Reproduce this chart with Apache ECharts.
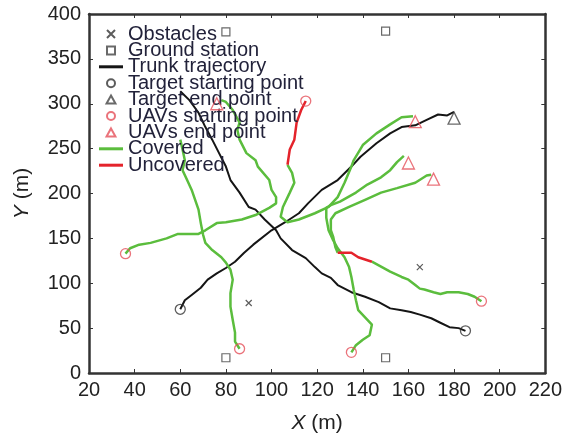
<!DOCTYPE html>
<html>
<head>
<meta charset="utf-8">
<script src="https://cdn.jsdelivr.net/npm/echarts@6/dist/echarts.min.js"></script>
<style>
  html, body { margin: 0; background: #fff; }
  #chart { width: 565px; height: 439px; }
</style>
</head>
<body>
<div id="chart"></div>
<script>
// markers
const obstacles = [[90, 78], [165, 118]];
const groundStations = [[80, 380], [150, 381], [80, 17], [150, 17]];
const targetStart = [[60, 71], [185, 47]];
const targetEnd = [[180, 284]];
const uavStart = [[36, 133], [86, 27], [135, 23], [192, 80], [115, 303]];
const uavEnd = [[163, 280], [160, 234], [171, 216], [76, 300]];

// trunk trajectories
const trunk1 = [[60, 71], [62, 81], [65, 87], [69, 95], [72, 104], [76, 111], [80, 117], [84, 124], [88, 134], [92, 143],
  [100, 159], [106, 168], [112, 178], [116, 189], [122, 204], [129, 215], [135, 230], [139, 241], [146, 256], [152, 267],
  [157, 274], [163, 276], [168, 282], [173, 288], [177, 287], [180, 291]];
const trunk2 = [[185, 47], [182, 50], [178, 51], [174, 56], [170, 61], [165, 65], [161, 68], [157, 70], [152, 72], [147, 79],
  [141, 85], [135, 90], [129, 98], [126, 106], [122, 111], [119, 118], [115, 128], [109, 137], [104, 150], [102, 159],
  [97, 171], [93, 182], [90, 185], [86, 201], [82, 215], [80, 230], [77, 245], [74, 260], [71, 274], [68, 290], [64, 304], [60, 314]];

// UAV paths, covered parts
const pathC = [[36, 133], [38, 139], [42, 143], [47, 145], [54, 150], [59, 155], [68, 155], [71, 159], [76, 167], [80, 168],
  [87, 171], [93, 176], [99, 184], [102, 189], [102, 196], [100, 204], [99, 215], [94, 230], [93, 237], [89, 245],
  [86, 260], [85, 271], [86, 279], [83, 293], [80, 302], [78, 304]];
const pathD = [[86, 27], [84, 35], [84, 45], [83, 59], [82, 74], [82, 89], [83, 104], [82, 115], [80, 123], [78, 129],
  [74, 137], [71, 145], [70, 154], [69, 167], [68, 182], [65, 204], [63, 215], [61, 226], [62, 237], [61, 249], [60, 260]];
const pathBGreen = [[107, 232], [109, 223], [110, 212], [108, 201], [105, 185], [104, 174], [107, 168], [112, 171], [119, 178],
  [125, 185], [129, 196], [132, 212], [135, 230], [136, 237], [140, 254], [146, 267], [152, 277], [157, 285], [162, 286]];
const pathE = [[135, 23], [137, 31], [140, 37], [143, 42], [144, 54], [141, 62], [138, 70], [137, 81], [136, 93], [135, 107],
  [134, 118], [132, 129], [129, 139], [127, 148], [125, 159], [124, 173], [124, 184], [126, 187], [130, 191], [137, 201],
  [142, 210], [148, 218], [152, 226], [155, 235], [158, 242]];
const pathFStart = [[192, 80], [189, 85], [186, 88], [182, 90], [177, 90], [174, 88], [171, 90], [167, 93], [165, 94],
  [163, 98], [160, 104], [157, 107], [152, 113], [147, 120], [144, 124]];
const pathFEnd = [[129, 134], [128, 140], [127, 152], [126, 159], [126, 171], [128, 178], [134, 185], [141, 193], [148, 201],
  [155, 206], [163, 212], [168, 220], [170, 221]];

// uncovered parts
const pathBRed = [[115, 303], [113, 293], [111, 279], [110, 260], [108, 249], [107, 232]];
const pathFRed = [[144, 124], [138, 129], [135, 134], [132, 134], [129, 134]];

const font = 'Liberation Sans, Arial, sans-serif';
const green = '#5bbd3d';
const red = '#e4232b';

// legend icons, kept square by the legend
const icons = {
    cross: 'path://M0 0L10 10M10 0L0 10',
    square: 'path://M0 0H10V10H0Z',
    circle: 'path://M5 0A5 5 0 1 1 5 10A5 5 0 1 1 5 0Z',
    triangle: 'path://M5 0L10 9L0 9Z',
    line: 'path://M0 0H24V3H0Z'
};

const lineSeries = (name, data, color, width) => ({
    name: name,
    type: 'line',
    data: data,
    symbol: 'none',
    lineStyle: {color: color, width: width},
    itemStyle: {color: color},
    z: 2
});

const markSeries = (name, data, symbol, size, color, bw) => ({
    name: name,
    type: 'scatter',
    data: data,
    symbol: symbol,
    symbolSize: size,
    itemStyle: {color: 'rgba(0,0,0,0)', borderColor: color, borderWidth: bw},
    z: 5
});

const axisBase = {
    type: 'value',
    axisLine: {show: true, onZero: false, lineStyle: {color: '#333', width: 2.5}},
    axisTick: {inside: true, length: 4, lineStyle: {color: '#333', width: 1}},
    splitLine: {show: false}
};

const chart = echarts.init(document.getElementById('chart'));
chart.setOption({
    animation: false,
    grid: {left: 89, right: 17, top: 14, bottom: 66},
    legend: {
        orient: 'vertical',
        left: 99,
        top: 24,
        padding: 0,
        itemWidth: 24,
        itemHeight: 8,
        itemGap: -3.6,
        textStyle: {fontSize: 20, lineHeight: 20, color: '#22223a', fontFamily: font},
        data: [
            {name: 'Obstacles', icon: icons.cross},
            {name: 'Ground station', icon: icons.square},
            {name: 'Trunk trajectory', icon: icons.line},
            {name: 'Target starting point', icon: icons.circle},
            {name: 'Target end point', icon: icons.triangle},
            {name: 'UAVs starting point', icon: icons.circle},
            {name: 'UAVs end point', icon: icons.triangle},
            {name: 'Covered', icon: icons.line},
            {name: 'Uncovered', icon: icons.line}
        ]
    },
    xAxis: [{
        ...axisBase,
        min: 20, max: 220, interval: 20,
        position: 'bottom',
        axisLabel: {margin: 7, fontSize: 20, color: '#222', fontFamily: font},
        name: '{i|X} (m)',
        nameLocation: 'middle',
        nameGap: 40,
        nameTextStyle: {fontSize: 21, color: '#222', fontFamily: font,
            rich: {i: {fontSize: 21, fontStyle: 'italic', color: '#222', fontFamily: font}}}
    }, {
        ...axisBase,
        min: 20, max: 220, interval: 20,
        position: 'top',
        axisLabel: {show: false}
    }],
    yAxis: [{
        ...axisBase,
        min: 0, max: 400, interval: 50,
        position: 'left',
        axisLabel: {margin: 8, fontSize: 20, color: '#222', fontFamily: font},
        name: '{i|Y} (m)',
        nameLocation: 'middle',
        nameGap: 56,
        nameTextStyle: {fontSize: 21, color: '#222', fontFamily: font,
            rich: {i: {fontSize: 21, fontStyle: 'italic', color: '#222', fontFamily: font}}}
    }, {
        ...axisBase,
        min: 0, max: 400, interval: 50,
        position: 'right',
        axisLabel: {show: false}
    }],
    series: [
        markSeries('Obstacles', obstacles, 'path://M0 0L10 10M10 0L0 10', 6, '#333', 1.2),
        markSeries('Ground station', groundStations, 'rect', 8, '#444', 1.2),
        lineSeries('Trunk trajectory', trunk1, '#151515', 2),
        lineSeries('Trunk trajectory', trunk2, '#151515', 2),
        markSeries('Target starting point', targetStart, 'circle', 10, '#333', 1.3),
        markSeries('Target end point', targetEnd, 'triangle', 12, '#444', 1.3),
        markSeries('UAVs starting point', uavStart, 'circle', 10, '#e5505a', 1.3),
        markSeries('UAVs end point', uavEnd, 'triangle', 12, '#e5505a', 1.3),
        lineSeries('Covered', pathC, green, 2.5),
        lineSeries('Covered', pathD, green, 2.5),
        lineSeries('Covered', pathBGreen, green, 2.5),
        lineSeries('Covered', pathE, green, 2.5),
        lineSeries('Covered', pathFStart, green, 2.5),
        lineSeries('Covered', pathFEnd, green, 2.5),
        lineSeries('Uncovered', pathBRed, red, 2.5),
        lineSeries('Uncovered', pathFRed, red, 2.5)
    ]
});
</script>
</body>
</html>
